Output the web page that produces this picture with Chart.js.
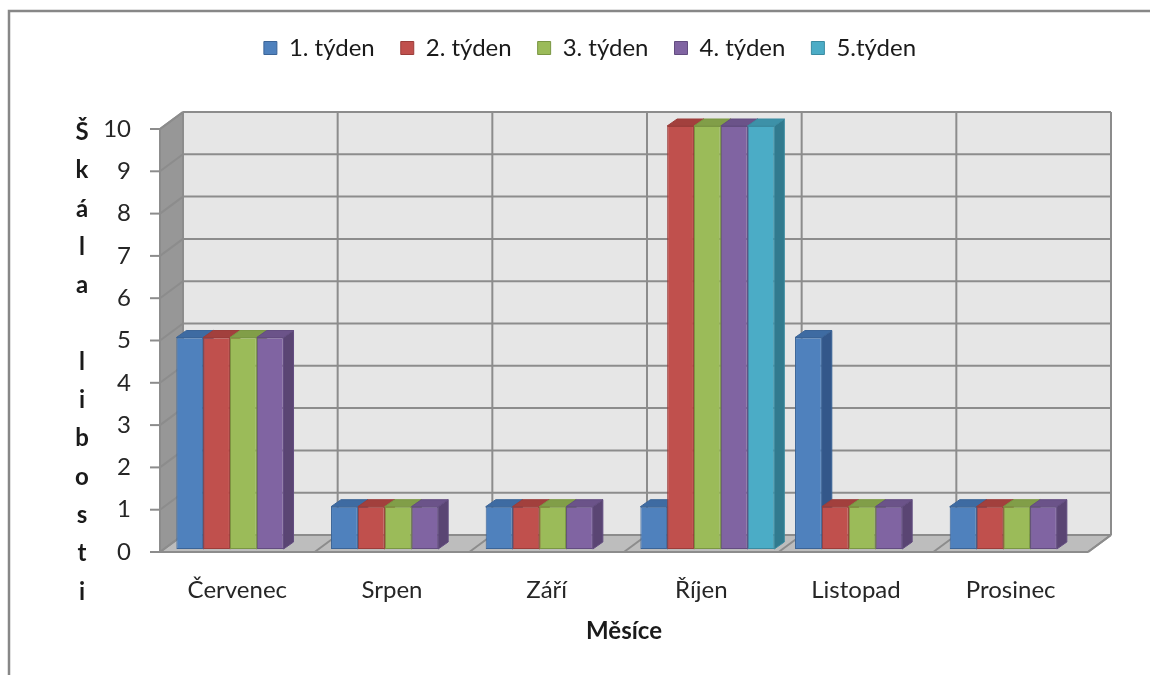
<!DOCTYPE html>
<html>
<head>
<meta charset="utf-8">
<script src="https://cdn.jsdelivr.net/npm/chart.js@4/dist/chart.umd.min.js"></script>
<style>
  html, body { margin: 0; padding: 0; background: #fff; overflow: hidden; }
  #wrap { width: 1150px; height: 675px; }
</style>
</head>
<body>
<div id="wrap"><canvas id="c" width="1150" height="675"></canvas></div>
<script>
// Months on the category axis
const months = ['Červenec', 'Srpen', 'Září', 'Říjen', 'Listopad', 'Prosinec'];
// Series names shown in the legend
const weekNames = ['1. týden', '2. týden', '3. týden', '4. týden', '5.týden'];
// Scores per week, one value per month (null = no bar)
const week1 = [5, 1, 1, 1, 5, 1];
const week2 = [5, 1, 1, 10, 1, 1];
const week3 = [5, 1, 1, 10, 1, 1];
const week4 = [5, 1, 1, 10, 1, 1];
const week5 = [null, null, null, 10, null, null];
// Value axis range and step
const yMin = 0, yMax = 10, yStep = 1;
// Axis titles
const xTitle = 'Měsíce';
const yTitle = 'Škála libosti';

// Face colours: front, outline, top, side
const palette = [
  { front: '#4F81BD', line: '#3B6497', top: '#3E6BA2', side: '#33578A' },
  { front: '#C0504D', line: '#9B3D3A', top: '#A2403D', side: '#8A3431' },
  { front: '#9BBB59', line: '#7A9643', top: '#819E48', side: '#6E873B' },
  { front: '#8064A2', line: '#634D80', top: '#6B5389', side: '#5A4573' },
  { front: '#4BACC6', line: '#3A8BA1', top: '#3D91A8', side: '#317A8E' }
];

// Oblique offsets of the 3D box (back wall) and of the bars
const WALL_DX = 23, WALL_DY = -17;
const BAR_DX = 6, BAR_DY = -3;
const DEPTH_DX = 10, DEPTH_DY = -7;
const GRID = '#8C8C8C';

function poly(ctx, pts, fill, stroke, lw) {
  ctx.beginPath();
  ctx.moveTo(pts[0][0], pts[0][1]);
  for (let i = 1; i < pts.length; i++) ctx.lineTo(pts[i][0], pts[i][1]);
  ctx.closePath();
  if (fill) { ctx.fillStyle = fill; ctx.fill(); }
  if (stroke) { ctx.strokeStyle = stroke; ctx.lineWidth = lw || 1; ctx.stroke(); }
}
function line(ctx, x1, y1, x2, y2) {
  ctx.beginPath(); ctx.moveTo(x1, y1); ctx.lineTo(x2, y2); ctx.stroke();
}

// Empty band between the legend and the plot
const legendGap = {
  id: 'legendGap',
  beforeInit(chart) {
    Chart.layouts.addBox(chart, {
      position: 'top', weight: 500, fullSize: true,
      options: {},
      left: 0, top: 0, right: 0, bottom: 0, width: 0, height: 0,
      isHorizontal() { return true; },
      update(maxWidth) { this.width = maxWidth; this.height = 59; return { width: this.width, height: this.height }; },
      getPadding() { return { left: 0, right: 0, top: 0, bottom: 0 }; },
      draw() {}
    });
  }
};

// Background, outer frame, 3D walls, floor, grid and bar depth faces
const box3d = {
  id: 'box3d',
  beforeDraw(chart) {
    const { ctx, width, height } = chart;
    ctx.save();
    ctx.fillStyle = '#ffffff';
    ctx.fillRect(0, 0, width, height);
    ctx.strokeStyle = '#878787';
    ctx.lineWidth = 2.5;
    ctx.strokeRect(9, 11, width + 40, height + 40);
    ctx.restore();
  },
  beforeDatasetsDraw(chart) {
    const { ctx, chartArea: a, scales } = chart;
    const xs = scales.x, ys = scales.y;
    const L = a.left, R = a.right, T = a.top, B = a.bottom;
    const dx = WALL_DX, dy = WALL_DY;

    ctx.save();
    ctx.lineJoin = 'round';
    // back wall
    poly(ctx, [[L + dx, T + dy], [R + dx, T + dy], [R + dx, B + dy], [L + dx, B + dy]], '#E6E6E6');
    // side wall
    poly(ctx, [[L, T], [L + dx, T + dy], [L + dx, B + dy], [L, B]], '#979797');
    // floor
    poly(ctx, [[L, B], [R, B], [R + dx, B + dy], [L + dx, B + dy]], '#BDBDBD');

    ctx.strokeStyle = GRID;
    ctx.lineWidth = 2;
    // horizontal grid lines on the back wall, diagonals on the side wall, tick marks
    ys.ticks.forEach(t => {
      const py = ys.getPixelForValue(t.value);
      line(ctx, L + dx, py + dy, R + dx, py + dy);
      line(ctx, L, py, L + dx, py + dy);
      line(ctx, L - 10, py, L, py);
    });
    // category separators on the back wall and the floor
    for (let k = 0; k <= months.length; k++) {
      const px = xs.getPixelForValue(k - 0.5);
      line(ctx, px + dx, T + dy, px + dx, B + dy);
      line(ctx, px, B, px + dx, B + dy);
    }
    // box outlines
    line(ctx, L, T, L, B);
    line(ctx, L - 10, B, R, B);
    line(ctx, R, B, R + dx, B + dy);
    line(ctx, L, T, L + dx, T + dy);
    ctx.restore();

    // bar depth faces, then the library draws the front faces on top
    ctx.save();
    ctx.translate(BAR_DX, BAR_DY);
    const metas = chart.data.datasets.map((d, i) => chart.getDatasetMeta(i));
    const faces = (kind) => {
      metas.forEach((meta, i) => {
        meta.data.forEach((el, j) => {
          const v = chart.data.datasets[i].data[j];
          if (v === null || v === undefined) return;
          const l = el.x - el.width / 2, r = el.x + el.width / 2, top = el.y, bot = el.base;
          const c = palette[i];
          if (kind === 'side') {
            poly(ctx, [[r, top], [r + DEPTH_DX, top + DEPTH_DY], [r + DEPTH_DX, bot + DEPTH_DY], [r, bot]], c.side, c.line, 1);
          } else {
            poly(ctx, [[l, top], [r, top], [r + DEPTH_DX, top + DEPTH_DY], [l + DEPTH_DX, top + DEPTH_DY]], c.top, c.line, 1);
          }
        });
      });
    };
    faces('side');
    faces('top');
  },
  afterDatasetsDraw(chart) {
    chart.ctx.restore();
  },
  afterDraw(chart) {
    // stacked letters of the value-axis title
    const { ctx } = chart;
    ctx.save();
    ctx.font = 'bold 24px Lato';
    ctx.fillStyle = '#1a1a1a';
    ctx.textAlign = 'center';
    ctx.textBaseline = 'alphabetic';
    const letters = yTitle.split('');
    letters.forEach((ch, i) => {
      if (ch !== ' ') ctx.fillText(ch, 82, 140 + i * 38.3);
    });
    ctx.restore();
  }
};

const series = [week1, week2, week3, week4, week5];

Chart.defaults.font.family = 'Lato';
Chart.defaults.color = '#262626';

new Chart(document.getElementById('c'), {
  type: 'bar',
  data: {
    labels: months,
    datasets: series.map((vals, i) => ({
      label: weekNames[i],
      data: vals,
      backgroundColor: palette[i].front,
      borderColor: palette[i].line,
      borderWidth: 1,
      borderSkipped: false,
      categoryPercentage: 0.866,
      barPercentage: 1.0,
      clip: false
    }))
  },
  options: {
    responsive: false,
    animation: false,
    events: [],
    layout: { padding: { left: 92, right: 62, top: 10, bottom: 0 } },
    plugins: {
      legend: {
        position: 'top',
        labels: {
          boxWidth: 13,
          boxHeight: 13,
          padding: 26,
          font: { size: 24 },
          color: '#1a1a1a'
        }
      },
      tooltip: { enabled: false }
    },
    scales: {
      x: {
        grid: { display: false, drawTicks: false },
        border: { display: false },
        ticks: { padding: 24, font: { size: 24 }, maxRotation: 0, autoSkip: false },
        title: { display: true, text: xTitle, font: { size: 24, weight: 'bold' }, color: '#1a1a1a', padding: { top: 0, bottom: 29 } },
        afterFit(s) { s.height = 123; }
      },
      y: {
        min: yMin, max: yMax,
        grid: { display: false, drawTicks: false },
        border: { display: false },
        ticks: { stepSize: yStep, padding: 29, font: { size: 24 } },
        afterFit(s) { s.width = 68; }
      }
    }
  },
  plugins: [legendGap, box3d]
});
</script>
</body>
</html>
